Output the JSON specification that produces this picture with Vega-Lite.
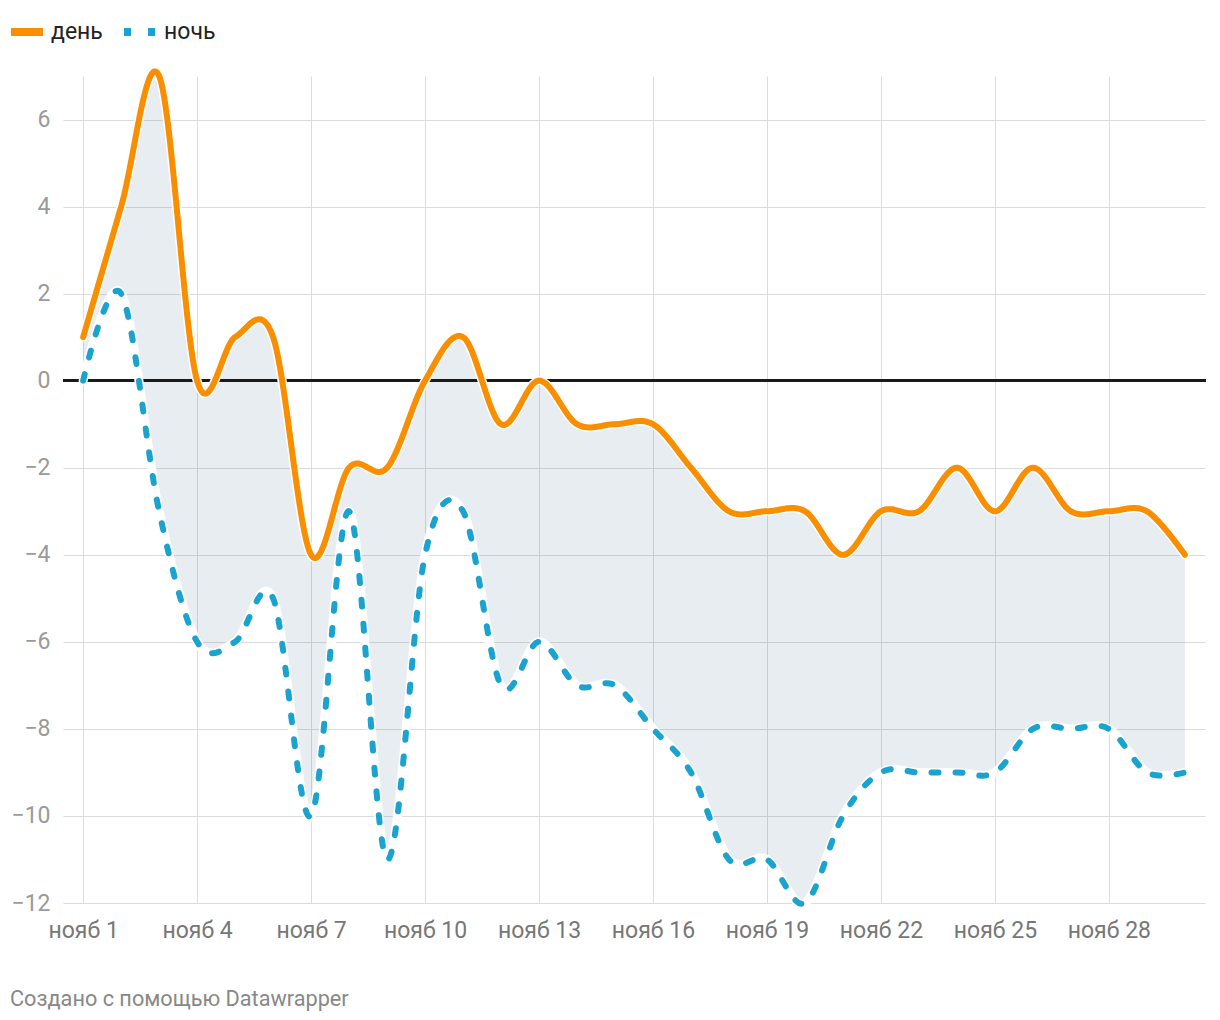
{
  "$schema": "https://vega.github.io/schema/vega-lite/v6.json",
  "width": 1142,
  "height": 827,
  "autosize": {"type": "none"},
  "padding": {"left": 63, "top": 76, "right": 15, "bottom": 117},
  "background": "white",
  "config": {
    "font": "Roboto",
    "view": {"stroke": null},
    "axisY": {
      "title": null,
      "grid": true,
      "gridColor": "#dcdcdc",
      "gridWidth": 1,
      "domain": false,
      "ticks": false,
      "labelFontSize": 23,
      "labelColor": "#9a9a9a",
      "labelPadding": 13,
      "labelFlush": false,
      "labelOverlap": false
    },
    "axisX": {
      "title": null,
      "grid": true,
      "gridColor": "#dcdcdc",
      "gridWidth": 1,
      "domain": false,
      "ticks": false,
      "labelFontSize": 23,
      "labelColor": "#777777",
      "labelPadding": 16,
      "labelFlush": false,
      "labelOverlap": false
    },
    "legend": {
      "title": null,
      "orient": "none",
      "legendX": -56,
      "legendY": -64,
      "direction": "horizontal",
      "symbolType": "stroke",
      "symbolStrokeWidth": 8,
      "symbolSize": 1024,
      "labelFontSize": 23,
      "labelFontWeight": "normal",
      "labelColor": "#222222",
      "labelOffset": 4,
      "columnPadding": 5
    }
  },
  "title": {
    "text": "Создано с помощью Datawrapper",
    "orient": "bottom",
    "anchor": "start",
    "frame": "group",
    "dx": -53,
    "offset": 47,
    "fontSize": 21.7,
    "fontWeight": "normal",
    "color": "#888888",
    "font": "Roboto"
  },
  "data": {
    "values": [
      {"d": 1, "день": 1, "ночь": 0},
      {"d": 2, "день": 4, "ночь": 2},
      {"d": 3, "день": 7, "ночь": -3},
      {"d": 4, "день": 0, "ночь": -6},
      {"d": 5, "день": 1, "ночь": -6},
      {"d": 6, "день": 1, "ночь": -5},
      {"d": 7, "день": -4, "ночь": -10},
      {"d": 8, "день": -2, "ночь": -3},
      {"d": 9, "день": -2, "ночь": -11},
      {"d": 10, "день": 0, "ночь": -4},
      {"d": 11, "день": 1, "ночь": -3},
      {"d": 12, "день": -1, "ночь": -7},
      {"d": 13, "день": 0, "ночь": -6},
      {"d": 14, "день": -1, "ночь": -7},
      {"d": 15, "день": -1, "ночь": -7},
      {"d": 16, "день": -1, "ночь": -8},
      {"d": 17, "день": -2, "ночь": -9},
      {"d": 18, "день": -3, "ночь": -11},
      {"d": 19, "день": -3, "ночь": -11},
      {"d": 20, "день": -3, "ночь": -12},
      {"d": 21, "день": -4, "ночь": -10},
      {"d": 22, "день": -3, "ночь": -9},
      {"d": 23, "день": -3, "ночь": -9},
      {"d": 24, "день": -2, "ночь": -9},
      {"d": 25, "день": -3, "ночь": -9},
      {"d": 26, "день": -2, "ночь": -8},
      {"d": 27, "день": -3, "ночь": -8},
      {"d": 28, "день": -3, "ночь": -8},
      {"d": 29, "день": -3, "ночь": -9},
      {"d": 30, "день": -4, "ночь": -9}
    ]
  },
  "encoding": {
    "x": {
      "field": "d",
      "type": "quantitative",
      "scale": {"domain": [0.47, 30.53], "nice": false, "zero": false},
      "axis": {
        "values": [1, 4, 7, 10, 13, 16, 19, 22, 25, 28],
        "labelExpr": "'нояб ' + datum.value"
      }
    }
  },
  "layer": [
    {
      "mark": {"type": "area", "interpolate": "cardinal", "tension": 0, "color": "#1a4a72", "opacity": 0.1},
      "encoding": {
        "y": {
          "field": "день",
          "type": "quantitative",
          "scale": {"domain": [-12, 7], "nice": false, "zero": false},
          "axis": {"values": [-12, -10, -8, -6, -4, -2, 0, 2, 4, 6]}
        },
        "y2": {"field": "ночь"}
      }
    },
    {
      "mark": {"type": "rule", "color": "#1a1a1a", "strokeWidth": 1.8},
      "encoding": {
        "y": {"datum": 0, "type": "quantitative", "axis": {"values": [-12, -10, -8, -6, -4, -2, 0, 2, 4, 6]}},
        "x": {"value": 0},
        "x2": {"value": 1143}
      }
    },
    {
      "transform": [{"fold": ["день", "ночь"], "as": ["series", "temp"]}],
      "mark": {"type": "line", "interpolate": "cardinal", "tension": 0, "color": "white", "strokeWidth": 9, "strokeCap": "round"},
      "encoding": {
        "y": {"field": "temp", "type": "quantitative", "axis": {"values": [-12, -10, -8, -6, -4, -2, 0, 2, 4, 6]}},
        "detail": {"field": "series", "type": "nominal"}
      }
    },
    {
      "transform": [{"fold": ["день", "ночь"], "as": ["series", "temp"]}],
      "mark": {"type": "line", "interpolate": "cardinal", "tension": 0, "strokeWidth": 6, "strokeCap": "round"},
      "encoding": {
        "y": {"field": "temp", "type": "quantitative", "axis": {"values": [-12, -10, -8, -6, -4, -2, 0, 2, 4, 6]}},
        "color": {
          "field": "series",
          "type": "nominal",
          "scale": {"domain": ["день", "ночь"], "range": ["#f88e00", "#1ba3cf"]}
        },
        "strokeDash": {
          "field": "series",
          "type": "nominal",
          "scale": {"domain": ["день", "ночь"], "range": [[1, 0], [7, 17]]}
        }
      }
    }
  ]
}
